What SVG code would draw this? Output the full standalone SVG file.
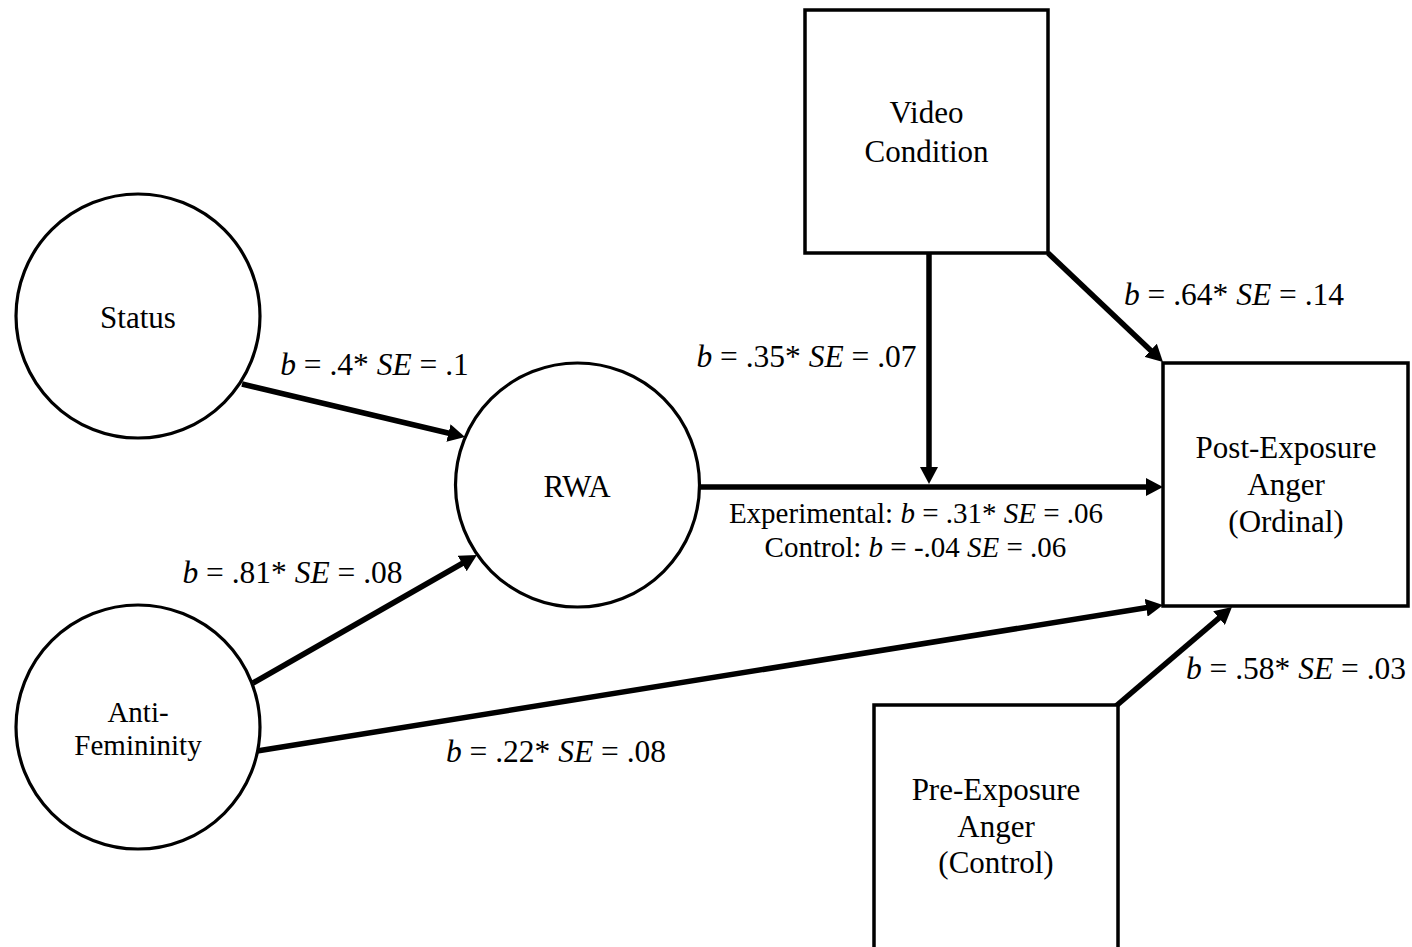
<svg xmlns="http://www.w3.org/2000/svg" width="1412" height="947" viewBox="0 0 1412 947">
<defs>
<marker id="ah" markerUnits="userSpaceOnUse" markerWidth="18" markerHeight="18" refX="6" refY="9" orient="auto" viewBox="0 0 18 18">
<path d="M0,0 L17,9 L0,18 z" fill="#000"/>
</marker>
<style>
.node{fill:#fff;stroke:#000;stroke-width:3.5}
.circ{fill:#fff;stroke:#000;stroke-width:3.2}
.t{font-family:"Liberation Serif","Times New Roman",serif;font-size:31px;fill:#000;text-anchor:middle}
.lbl{font-family:"Liberation Serif","Times New Roman",serif;font-size:31.5px;fill:#000;text-anchor:middle}
.lbl2{font-family:"Liberation Serif","Times New Roman",serif;font-size:29px;fill:#000;text-anchor:middle}
.edge{stroke:#000;stroke-width:5.5;fill:none;marker-end:url(#ah)}
</style>
</defs>
<rect width="1412" height="947" fill="#fff"/>
<g id="connectors">
<line class="edge" x1="242" y1="384" x2="454.3" y2="434.5"/>
<line class="edge" x1="253" y1="683" x2="467.4" y2="560.5"/>
<line class="edge" x1="257" y1="751" x2="1152.1" y2="606.8"/>
<line class="edge" x1="699" y1="487" x2="1152" y2="487"/>
<line class="edge" x1="929" y1="253" x2="929" y2="473"/>
<line class="edge" x1="1048" y1="253" x2="1155" y2="354.4"/>
<line class="edge" x1="1116" y1="706" x2="1223.6" y2="614.2"/>
</g>
<g id="labels">
<text class="lbl" x="374.5" y="375"><tspan font-style="italic">b</tspan> = .4* <tspan font-style="italic">SE</tspan> = .1</text>
<text class="lbl" x="292.5" y="583"><tspan font-style="italic">b</tspan> = .81* <tspan font-style="italic">SE</tspan> = .08</text>
<text class="lbl" x="556" y="762"><tspan font-style="italic">b</tspan> = .22* <tspan font-style="italic">SE</tspan> = .08</text>
<text class="lbl" x="806.5" y="367"><tspan font-style="italic">b</tspan> = .35* <tspan font-style="italic">SE</tspan> = .07</text>
<text class="lbl" x="1234" y="305"><tspan font-style="italic">b</tspan> = .64* <tspan font-style="italic">SE</tspan> = .14</text>
<text class="lbl" x="1296" y="679"><tspan font-style="italic">b</tspan> = .58* <tspan font-style="italic">SE</tspan> = .03</text>
<text class="lbl2" x="916" y="523">Experimental: <tspan font-style="italic">b</tspan> = .31* <tspan font-style="italic">SE</tspan> = .06</text>
<text class="lbl2" x="915.5" y="557">Control: <tspan font-style="italic">b</tspan> = -.04 <tspan font-style="italic">SE</tspan> = .06</text>
</g>
<g id="status">
<circle class="circ" cx="138" cy="316" r="122"/>
<text class="t" x="138" y="328">Status</text>
</g>
<g id="antifemininity">
<circle class="circ" cx="138" cy="727" r="122"/>
<text class="t" x="138" y="722" style="font-size:29px">Anti-</text>
<text class="t" x="138" y="755" style="font-size:29px">Femininity</text>
</g>
<g id="rwa">
<circle class="circ" cx="577.5" cy="485" r="122"/>
<text class="t" x="577" y="497">RWA</text>
</g>
<g id="video">
<rect class="node" x="805" y="10" width="243" height="243"/>
<text class="t" x="926.5" y="123">Video</text>
<text class="t" x="926.5" y="162">Condition</text>
</g>
<g id="post">
<rect class="node" x="1163" y="363" width="245" height="243"/>
<text class="t" x="1286" y="458">Post-Exposure</text>
<text class="t" x="1286" y="495">Anger</text>
<text class="t" x="1286" y="532">(Ordinal)</text>
</g>
<g id="pre">
<rect class="node" x="874" y="705" width="244" height="246"/>
<text class="t" x="996" y="800">Pre-Exposure</text>
<text class="t" x="996" y="837">Anger</text>
<text class="t" x="996" y="873">(Control)</text>
</g>
</svg>
